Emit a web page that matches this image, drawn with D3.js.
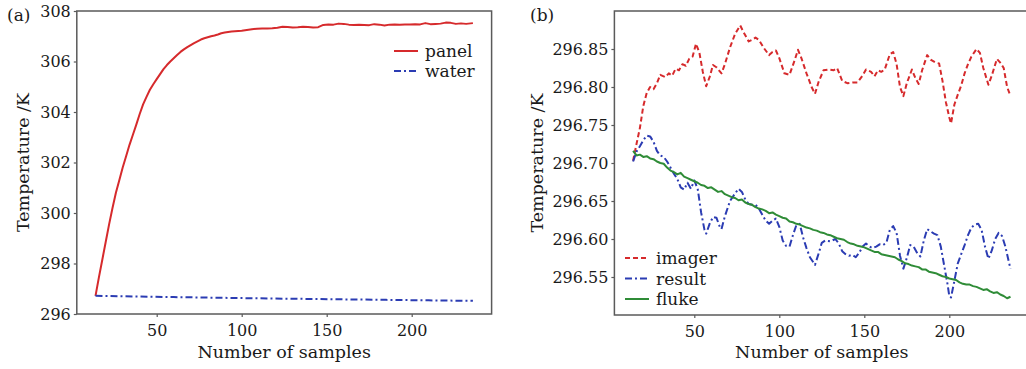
<!DOCTYPE html>
<html>
<head>
<meta charset="utf-8">
<script src="https://cdn.jsdelivr.net/npm/d3@7"></script>
<style>
  body { margin: 0; background: #fff; }
  svg text { font-family: "DejaVu Serif", serif; fill: #1a1a1a; }
</style>
</head>
<body>
<script>
// (a) panel / water temperature
var panelX = [14,16,18,20,22,24,26,28,30,32,34,36,38,40,42,44,46,48,50,52,54,56,58,60,62,64,66,68,70,72,74,76,78,80,82,84,86,88,90,92,94,96,98,100,103,106,109,112,115,118,121,124,127,130,133,136,139,142,145,148,151,154,157,160,163,166,169,172,175,178,181,184,187,190,193,196,199,202,205,208,211,214,217,220,223,226,229,232,236];
var panelY = [296.72,297.45,298.15,298.85,299.55,300.2,300.8,301.3,301.8,302.25,302.7,303.1,303.5,303.92,304.3,304.6,304.88,305.1,305.3,305.5,305.7,305.86,306.0,306.13,306.26,306.38,306.48,306.57,306.65,306.73,306.8,306.87,306.92,306.96,307.0,307.03,307.07,307.12,307.15,307.17,307.19,307.2,307.21,307.22,307.25,307.28,307.3,307.31,307.31,307.32,307.34,307.38,307.37,307.35,307.36,307.38,307.37,307.35,307.36,307.45,307.47,307.46,307.5,307.49,307.46,307.45,307.46,307.45,307.44,307.48,307.46,307.43,307.46,307.47,307.46,307.47,307.47,307.48,307.47,307.52,307.48,307.49,307.5,307.54,307.53,307.49,307.51,307.49,307.52];
var waterX = [14,40,60,85,110,135,160,185,210,236];
var waterY = [296.72,296.69,296.67,296.645,296.62,296.6,296.58,296.56,296.54,296.52];

// (b) imager / result / fluke
var imagerX = [14,16,18,20,22,24,26,28,30,33,35,37,39,41,43,45,47,49,51,53,55,57,59,61,63,66,68,71,74,77,79,82,84,86,88,91,94,96,98,100,103,106,109,111,113,116,119,121,123,126,129,132,134,137,140,143,146,149,151,154,156,158,160,162,165,167,169,171,173,175,178,180,182,184,187,189,192,194,196,198,200,201,203,205,207,209,211,213,216,218,220,223,225,228,230,232,234,236];
var imagerY = [296.703,296.725,296.746,296.775,296.792,296.8,296.797,296.805,296.816,296.813,296.818,296.815,296.824,296.822,296.83,296.828,296.837,296.84,296.857,296.845,296.82,296.801,296.813,296.829,296.826,296.818,296.83,296.852,296.87,296.881,296.872,296.86,296.862,296.865,296.862,296.851,296.842,296.846,296.848,296.838,296.818,296.816,296.835,296.849,296.838,296.818,296.8,296.791,296.806,296.822,296.823,296.822,296.825,296.808,296.805,296.806,296.806,296.815,296.823,296.82,296.814,296.822,296.82,296.823,296.843,296.846,296.83,296.8,296.788,296.805,296.823,296.812,296.804,296.822,296.842,296.836,296.832,296.831,296.808,296.78,296.76,296.752,296.777,296.79,296.802,296.818,296.83,296.84,296.85,296.845,296.825,296.803,296.815,296.837,296.832,296.825,296.8,296.788];
var resultX = [14,16,18,20,22,24,26,28,30,32,34,36,38,40,42,44,46,48,50,52,54,56,57,59,61,63,65,66,68,71,74,76,78,80,82,84,86,88,90,92,94,96,98,100,102,104,106,108,110,112,114,116,118,121,123,125,127,130,133,135,137,139,141,143,145,147,149,151,153,155,157,159,161,163,165,167,169,171,173,175,177,179,181,183,185,187,189,191,193,195,197,199,200,201,203,205,207,209,211,213,215,217,219,221,223,225,227,229,231,233,235,236];
var resultY = [296.702,296.715,296.722,296.73,296.736,296.735,296.728,296.716,296.71,296.708,296.702,296.694,296.686,296.679,296.668,296.665,296.674,296.666,296.677,296.666,296.635,296.612,296.607,296.62,296.629,296.628,296.616,296.613,296.63,296.65,296.66,296.666,296.662,296.652,296.646,296.645,296.645,296.64,296.632,296.624,296.62,296.624,296.627,296.616,296.598,296.591,296.59,296.605,296.618,296.62,296.602,296.588,296.576,296.566,296.58,296.595,296.598,296.597,296.6,296.594,296.584,296.58,296.578,296.579,296.576,296.582,296.59,296.594,296.59,296.588,296.59,296.593,296.592,296.595,296.612,296.617,296.608,296.578,296.561,296.575,296.592,296.59,296.582,296.577,296.598,296.613,296.61,296.607,296.605,296.59,296.565,296.54,296.525,296.523,296.545,296.568,296.58,296.592,296.605,296.615,296.619,296.62,296.612,296.59,296.574,296.585,296.6,296.608,296.604,296.59,296.57,296.561];
var flukeX = [14,16,18,20,22,24,26,28,30,32,34,36,38,40,42,44,46,48,50,52,54,56,58,60,62,64,66,68,70,72,74,76,78,80,82,84,86,88,90,92,94,96,98,100,102,104,106,108,110,112,114,116,118,120,122,124,126,128,130,132,134,136,138,140,142,144,146,148,150,152,154,156,158,160,162,164,166,168,170,172,174,176,178,180,182,184,186,188,190,192,194,196,198,200,202,204,206,208,210,212,214,216,218,220,222,224,226,228,230,232,234,236];
var flukeY = [296.716,296.71,296.711,296.708,296.709,296.706,296.705,296.702,296.7,296.699,296.694,296.69,296.688,296.685,296.687,296.682,296.68,296.678,296.676,296.674,296.671,296.67,296.667,296.668,296.665,296.662,296.663,296.659,296.657,296.655,296.654,296.651,296.652,296.648,296.646,296.645,296.642,296.64,296.639,296.637,296.634,296.635,296.632,296.63,296.628,296.627,296.623,296.622,296.62,296.619,296.617,296.615,296.614,296.612,296.611,296.609,296.608,296.606,296.605,296.603,296.601,296.6,296.599,296.596,296.594,296.593,296.591,296.59,296.589,296.587,296.585,296.583,296.583,296.58,296.579,296.578,296.577,296.576,296.573,296.571,296.568,296.567,296.565,296.564,296.563,296.56,296.56,296.557,296.556,296.555,296.553,296.551,296.55,296.548,296.547,296.546,296.543,296.541,296.54,296.54,296.538,296.537,296.535,296.533,296.534,296.531,296.529,296.53,296.527,296.525,296.522,296.524];

var xTicks = [50, 100, 150, 200],
    yTicksA = [296, 298, 300, 302, 304, 306, 308],
    yTicksB = [296.55, 296.6, 296.65, 296.7, 296.75, 296.8, 296.85];

var width = 1026,
    height = 369,
    red = "#d62a2c",
    blue = "#2b3cb3",
    green = "#2f8c37",
    frame = "#5a5a5a";

var svg = d3.select("body")
    .append("svg")
    .attr("width", width)
    .attr("height", height);

function zip(xs, ys) {
    return xs.map(function(d, i) { return [d, ys[i]]; });
}

function drawPanel(opt) {
    var x = d3.scaleLinear().domain([3, 247]).range([opt.left, opt.right]);
    var y = d3.scaleLinear().domain(opt.yDomain).range([opt.bottom, opt.top]);
    var g = svg.append("g");

    g.append("g")
        .attr("transform", "translate(0," + opt.bottom + ")")
        .call(d3.axisBottom(x).tickValues(xTicks).tickSize(3).tickSizeOuter(0).tickPadding(8))
        .call(styleAxis);

    g.append("g")
        .attr("transform", "translate(" + opt.left + ",0)")
        .call(d3.axisLeft(y).tickValues(opt.yTicks).tickFormat(opt.fmt).tickSize(3).tickSizeOuter(0).tickPadding(3))
        .call(styleAxis);

    // frame
    g.append("rect")
        .attr("x", opt.left)
        .attr("y", opt.top)
        .attr("width", opt.right - opt.left)
        .attr("height", opt.bottom - opt.top)
        .attr("fill", "none")
        .attr("stroke", frame)
        .attr("stroke-width", 1.5);

    var line = d3.line()
        .x(function(d) { return x(d[0]); })
        .y(function(d) { return y(d[1]); });

    opt.series.forEach(function(s) {
        g.append("path")
            .datum(zip(s.x, s.y))
            .attr("d", line)
            .attr("fill", "none")
            .attr("stroke", s.color)
            .attr("stroke-width", 2)
            .attr("stroke-dasharray", s.dash)
            .attr("stroke-linejoin", "round");
    });

    // legend
    opt.series.forEach(function(s, i) {
        var ly = opt.legendY + i * opt.legendStep;
        g.append("line")
            .attr("x1", opt.legendX)
            .attr("x2", opt.legendX + 24)
            .attr("y1", ly)
            .attr("y2", ly)
            .attr("stroke", s.color)
            .attr("stroke-width", 2)
            .attr("stroke-dasharray", s.dash);
        g.append("text")
            .attr("x", opt.legendX + 31)
            .attr("y", ly + 6)
            .attr("font-size", "17px")
            .text(s.name);
    });

    g.append("text")
        .attr("x", (opt.left + opt.right) / 2)
        .attr("y", 358)
        .attr("text-anchor", "middle")
        .attr("font-size", "17.5px")
        .text("Number of samples");

    g.append("text")
        .attr("transform", "translate(" + opt.titleX + "," + ((opt.top + opt.bottom) / 2) + ") rotate(-90)")
        .attr("text-anchor", "middle")
        .attr("font-size", "17.5px")
        .text("Temperature /K");

    g.append("text")
        .attr("x", opt.tagX)
        .attr("y", 21)
        .attr("font-size", "17px")
        .text(opt.tag);
}

function styleAxis(a) {
    a.select(".domain").remove();
    a.selectAll(".tick line").attr("stroke", frame).attr("stroke-width", 1.2);
    a.selectAll(".tick text")
        .attr("font-family", "DejaVu Serif, serif")
        .attr("font-size", "16px")
        .attr("fill", "#1a1a1a");
}

drawPanel({
    left: 76.8, right: 491.6, top: 11, bottom: 314,
    yDomain: [296, 308], yTicks: yTicksA, fmt: d3.format("d"),
    titleX: 29, tag: "(a)", tagX: 7,
    legendX: 394, legendY: 51, legendStep: 20,
    series: [
        {name: "panel", x: panelX, y: panelY, color: red, dash: null},
        {name: "water", x: waterX, y: waterY, color: blue, dash: "7,3,2,3"}
    ]
});

drawPanel({
    left: 614.4, right: 1029.2, top: 11, bottom: 315,
    yDomain: [296.5, 296.9], yTicks: yTicksB, fmt: d3.format(".2f"),
    titleX: 543, tag: "(b)", tagX: 530,
    legendX: 625, legendY: 258, legendStep: 20.5,
    series: [
        {name: "imager", x: imagerX, y: imagerY, color: red, dash: "5,3"},
        {name: "result", x: resultX, y: resultY, color: blue, dash: "7,3,2,3"},
        {name: "fluke", x: flukeX, y: flukeY, color: green, dash: null}
    ]
});
</script>
</body>
</html>
